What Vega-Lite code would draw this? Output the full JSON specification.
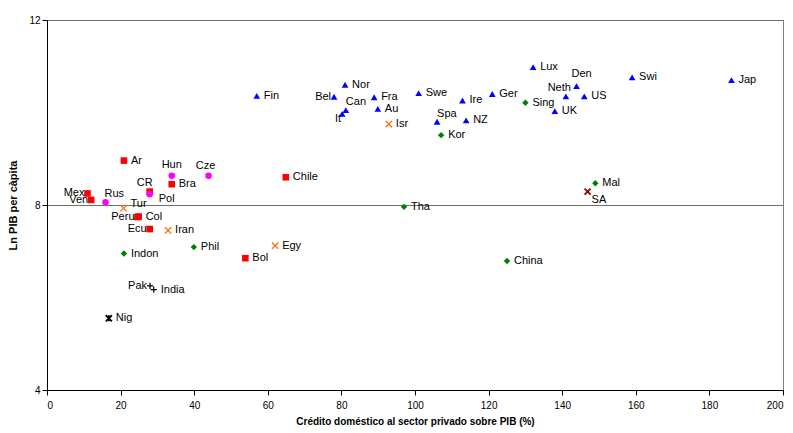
{
  "$schema": "https://vega.github.io/schema/vega-lite/v6.json",
  "width": 736,
  "height": 370,
  "autosize": {"type": "none"},
  "padding": {"left": 47, "top": 20, "right": 10, "bottom": 43},
  "background": "white",
  "config": {
    "view": {"stroke": "#808080", "strokeWidth": 1},
    "font": "Liberation Sans",
    "text": {"font": "Liberation Sans", "fontSize": 11, "color": "#000000"}
  },
  "data": {
    "values": [
      {"name": "Fin", "group": "OCDE", "x": 57, "y": 10.36},
      {"name": "Bel", "group": "OCDE", "x": 78, "y": 10.34},
      {"name": "Nor", "group": "OCDE", "x": 81, "y": 10.6},
      {"name": "Can", "group": "OCDE", "x": 81.2, "y": 10.05},
      {"name": "It", "group": "OCDE", "x": 80.2, "y": 9.97},
      {"name": "Fra", "group": "OCDE", "x": 88.9, "y": 10.33},
      {"name": "Au", "group": "OCDE", "x": 89.9, "y": 10.08},
      {"name": "Swe", "group": "OCDE", "x": 101, "y": 10.42},
      {"name": "Spa", "group": "OCDE", "x": 106, "y": 9.8},
      {"name": "Ire", "group": "OCDE", "x": 112.9, "y": 10.26},
      {"name": "NZ", "group": "OCDE", "x": 113.9, "y": 9.83},
      {"name": "Ger", "group": "OCDE", "x": 121, "y": 10.4},
      {"name": "Lux", "group": "OCDE", "x": 132.1, "y": 10.98},
      {"name": "Den", "group": "OCDE", "x": 143.9, "y": 10.57},
      {"name": "Neth", "group": "OCDE", "x": 141, "y": 10.35},
      {"name": "US", "group": "OCDE", "x": 146, "y": 10.35},
      {"name": "UK", "group": "OCDE", "x": 138, "y": 10.03},
      {"name": "Swi", "group": "OCDE", "x": 159, "y": 10.76},
      {"name": "Jap", "group": "OCDE", "x": 186, "y": 10.7},
      {"name": "Ar", "group": "América Latina", "x": 20.9, "y": 8.96},
      {"name": "Bra", "group": "América Latina", "x": 33.9, "y": 8.45},
      {"name": "CR", "group": "América Latina", "x": 27.9, "y": 8.29},
      {"name": "Mex", "group": "América Latina", "x": 11, "y": 8.25},
      {"name": "Ven", "group": "América Latina", "x": 12, "y": 8.11},
      {"name": "Col", "group": "América Latina", "x": 24.9, "y": 7.75},
      {"name": "Peru", "group": "América Latina", "x": 24.6, "y": 7.74},
      {"name": "Ecu", "group": "América Latina", "x": 27.9, "y": 7.48},
      {"name": "Bol", "group": "América Latina", "x": 53.9, "y": 6.85},
      {"name": "Chile", "group": "América Latina", "x": 64.9, "y": 8.6},
      {"name": "Hun", "group": "Europa del Este", "x": 33.9, "y": 8.63},
      {"name": "Cze", "group": "Europa del Este", "x": 43.9, "y": 8.63},
      {"name": "Pol", "group": "Europa del Este", "x": 27.9, "y": 8.23},
      {"name": "Rus", "group": "Europa del Este", "x": 15.9, "y": 8.06},
      {"name": "Tur", "group": "Oriente Medio", "x": 20.8, "y": 7.93},
      {"name": "Iran", "group": "Oriente Medio", "x": 32.9, "y": 7.45},
      {"name": "Egy", "group": "Oriente Medio", "x": 62, "y": 7.12},
      {"name": "Isr", "group": "Oriente Medio", "x": 92.9, "y": 9.75},
      {"name": "Indon", "group": "Asia Oriental", "x": 20.9, "y": 6.95},
      {"name": "Phil", "group": "Asia Oriental", "x": 39.9, "y": 7.09},
      {"name": "Tha", "group": "Asia Oriental", "x": 97, "y": 7.96},
      {"name": "China", "group": "Asia Oriental", "x": 125, "y": 6.79},
      {"name": "Kor", "group": "Asia Oriental", "x": 107.1, "y": 9.51},
      {"name": "Sing", "group": "Asia Oriental", "x": 130, "y": 10.21},
      {"name": "Mal", "group": "Asia Oriental", "x": 149, "y": 8.47},
      {"name": "Pak", "group": "Asia del Sur", "x": 28, "y": 6.25},
      {"name": "India", "group": "Asia del Sur", "x": 29, "y": 6.17},
      {"name": "Nig", "group": "África", "x": 16.8, "y": 5.55},
      {"name": "SA", "group": "Sudáfrica", "x": 146.9, "y": 8.29}
    ]
  },
  "encoding": {
    "x": {
      "field": "x", "type": "quantitative",
      "scale": {"domain": [0, 200], "nice": false, "zero": false},
      "axis": {
        "values": [0, 20, 40, 60, 80, 100, 120, 140, 160, 180, 200],
        "title": "Crédito doméstico al sector privado sobre PIB (%)",
        "grid": false, "domainColor": "#000000", "tickColor": "#000000",
        "tickSize": 5, "labelPadding": 5, "labelFont": "Liberation Sans", "labelFontSize": 10,
        "labelColor": "#000000", "titleFont": "Liberation Sans", "titleFontSize": 10,
        "titleFontWeight": "bold", "titleColor": "#000000", "titlePadding": 6
      }
    },
    "y": {
      "field": "y", "type": "quantitative",
      "scale": {"domain": [4, 12], "nice": false, "zero": false},
      "axis": {
        "values": [4, 8, 12],
        "title": "Ln PIB per càpita",
        "grid": true, "gridColor": "#707070", "gridWidth": 1,
        "domainColor": "#000000", "tickColor": "#000000",
        "tickSize": 5, "labelPadding": 2, "labelFont": "Liberation Sans", "labelFontSize": 10,
        "labelColor": "#000000", "titleFont": "Liberation Sans", "titleFontSize": 11,
        "titleFontWeight": "bold", "titleColor": "#000000", "titlePadding": 10
      }
    }
  },
  "layer": [
    {
      "transform": [{"filter": {"field": "group", "oneOf": ["OCDE", "América Latina", "Europa del Este", "Asia Oriental"]}}],
      "mark": {"type": "point", "filled": true, "opacity": 1, "strokeWidth": 0},
      "encoding": {
        "shape": {"field": "group", "type": "nominal", "legend": null,
          "scale": {"domain": ["OCDE", "América Latina", "Europa del Este", "Asia Oriental", "Oriente Medio", "Asia del Sur", "África", "Sudáfrica"],
                    "range": ["triangle-up", "square", "circle", "diamond", "M-1,-1L1,1M-1,1L1,-1", "M-1,0L1,0M0,-1L0,1", "M-1,-1L1,1M-1,1L1,-1M0,-1L0,1", "M-1,-1L1,1M-1,1L1,-1"]}},
        "color": {"field": "group", "type": "nominal", "legend": null,
          "scale": {"domain": ["OCDE", "América Latina", "Europa del Este", "Asia Oriental", "Oriente Medio", "Asia del Sur", "África", "Sudáfrica"],
                    "range": ["#0000FF", "#FF0000", "#FF00FF", "#008000", "#FF6600", "#000000", "#000000", "#990000"]}},
        "size": {"field": "group", "type": "nominal", "legend": null,
          "scale": {"domain": ["OCDE", "América Latina", "Europa del Este", "Asia Oriental", "Oriente Medio", "Asia del Sur", "África", "Sudáfrica"],
                    "range": [45, 36, 36, 28, 49, 49, 25, 25]}}
      }
    },
    {
      "transform": [{"filter": {"field": "group", "oneOf": ["Oriente Medio", "Asia del Sur"]}}],
      "mark": {"type": "point", "filled": false, "opacity": 1, "strokeWidth": 1.2},
      "encoding": {
        "shape": {"field": "group", "type": "nominal", "legend": null},
        "color": {"field": "group", "type": "nominal", "legend": null},
        "size": {"field": "group", "type": "nominal", "legend": null}
      }
    },
    {
      "transform": [{"filter": {"field": "group", "oneOf": ["África", "Sudáfrica"]}}],
      "mark": {"type": "point", "filled": false, "opacity": 1, "strokeWidth": 1.8},
      "encoding": {
        "shape": {"field": "group", "type": "nominal", "legend": null},
        "color": {"field": "group", "type": "nominal", "legend": null},
        "size": {"field": "group", "type": "nominal", "legend": null}
      }
    },
    {
      "transform": [{"filter": {"not": {"field": "name", "oneOf": ["Mex", "Ven", "Peru", "Ecu", "Bel", "Pak", "Hun", "Cze", "CR", "Den", "Neth", "Spa", "Can", "It", "SA", "Rus", "Tur", "Pol"]}}}],
      "mark": {"type": "text", "align": "left", "baseline": "middle", "dx": 7},
      "encoding": {"text": {"field": "name"}}
    },
    {
      "transform": [{"filter": {"field": "name", "oneOf": ["Mex", "Ven", "Peru", "Ecu", "Bel", "Pak"]}}],
      "mark": {"type": "text", "align": "right", "baseline": "middle", "dx": -3},
      "encoding": {"text": {"field": "name"}}
    },
    {
      "transform": [{"filter": {"field": "name", "oneOf": ["Rus"]}}],
      "mark": {"type": "text", "align": "left", "baseline": "middle", "dx": -1, "dy": -8},
      "encoding": {"text": {"field": "name"}}
    },
    {
      "transform": [{"filter": {"field": "name", "oneOf": ["Tur"]}}],
      "mark": {"type": "text", "align": "left", "baseline": "middle", "dx": 7, "dy": -4},
      "encoding": {"text": {"field": "name"}}
    },
    {
      "transform": [{"filter": {"field": "name", "oneOf": ["Pol"]}}],
      "mark": {"type": "text", "align": "left", "baseline": "middle", "dx": 9, "dy": 5},
      "encoding": {"text": {"field": "name"}}
    },
    {
      "transform": [{"filter": {"field": "name", "oneOf": ["Hun"]}}],
      "mark": {"type": "text", "align": "center", "baseline": "middle", "dy": -11},
      "encoding": {"text": {"field": "name"}}
    },
    {
      "transform": [{"filter": {"field": "name", "oneOf": ["Cze"]}}],
      "mark": {"type": "text", "align": "center", "baseline": "middle", "dx": -3, "dy": -10},
      "encoding": {"text": {"field": "name"}}
    },
    {
      "transform": [{"filter": {"field": "name", "oneOf": ["CR"]}}],
      "mark": {"type": "text", "align": "center", "baseline": "middle", "dx": -5, "dy": -9},
      "encoding": {"text": {"field": "name"}}
    },
    {
      "transform": [{"filter": {"field": "name", "oneOf": ["Den"]}}],
      "mark": {"type": "text", "align": "center", "baseline": "middle", "dx": 5, "dy": -12},
      "encoding": {"text": {"field": "name"}}
    },
    {
      "transform": [{"filter": {"field": "name", "oneOf": ["Neth"]}}],
      "mark": {"type": "text", "align": "right", "baseline": "middle", "dx": 5, "dy": -8},
      "encoding": {"text": {"field": "name"}}
    },
    {
      "transform": [{"filter": {"field": "name", "oneOf": ["Spa", "Can"]}}],
      "mark": {"type": "text", "align": "left", "baseline": "middle", "dx": 0, "dy": -8},
      "encoding": {"text": {"field": "name"}}
    },
    {
      "transform": [{"filter": {"field": "name", "oneOf": ["It"]}}],
      "mark": {"type": "text", "align": "right", "baseline": "middle", "dx": -1, "dy": 5},
      "encoding": {"text": {"field": "name"}}
    },
    {
      "transform": [{"filter": {"field": "name", "oneOf": ["SA"]}}],
      "mark": {"type": "text", "align": "left", "baseline": "middle", "dx": 4, "dy": 8},
      "encoding": {"text": {"field": "name"}}
    }
  ]
}
